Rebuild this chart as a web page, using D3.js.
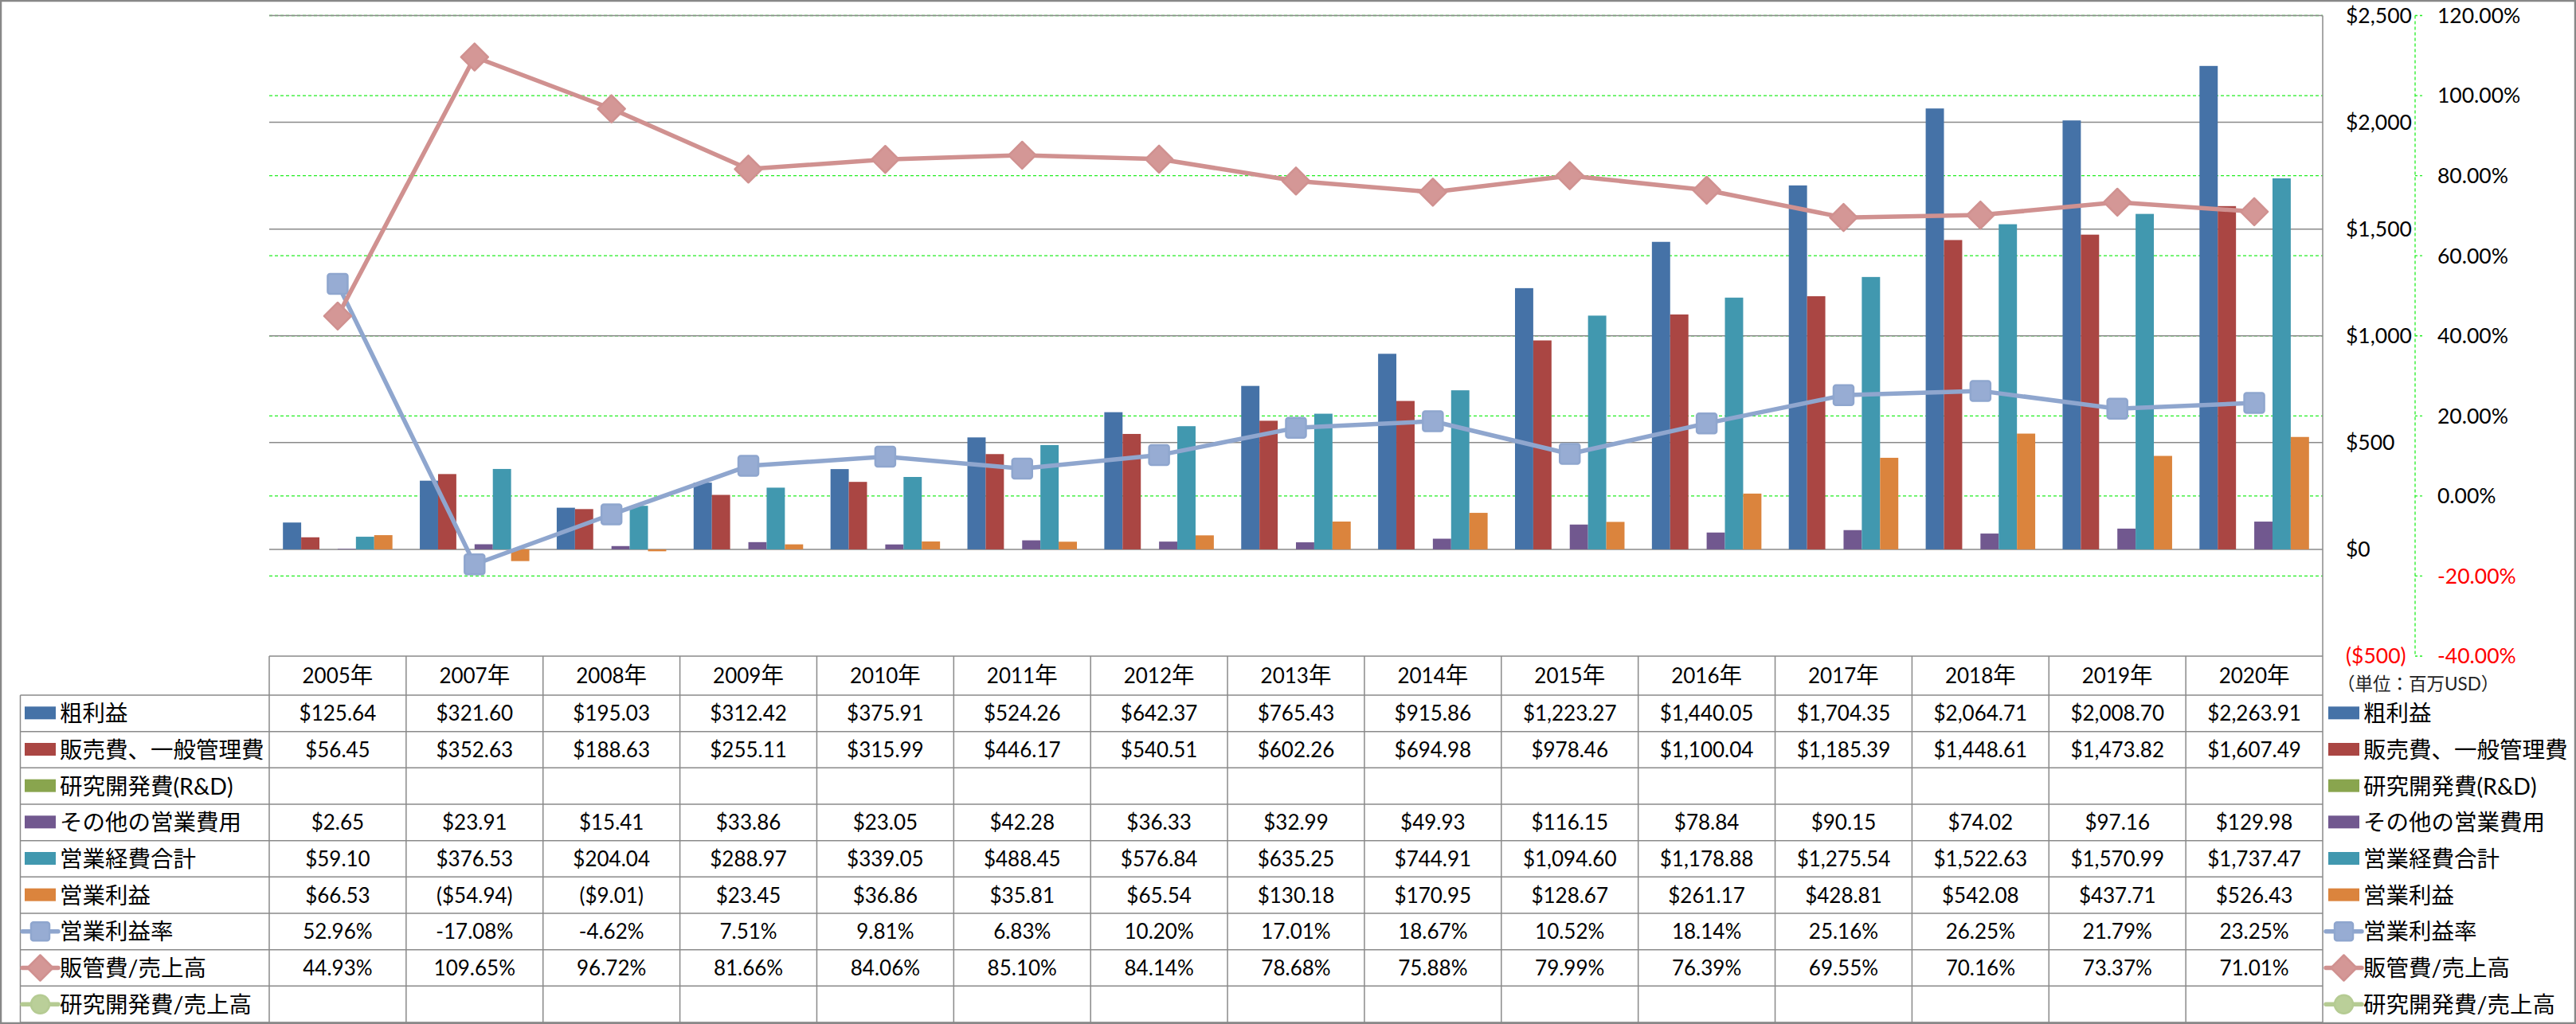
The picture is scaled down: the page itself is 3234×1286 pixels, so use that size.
<!DOCTYPE html>
<html><head><meta charset="utf-8">
<script src="https://cdn.jsdelivr.net/npm/d3@7"></script>
<style>
html,body{margin:0;padding:0;background:#fff;}
svg{display:block;}
text{font-family:Lato,'Noto Sans CJK JP',sans-serif;fill:#000;}
</style></head><body>
<svg id="chart" width="3234" height="1286"></svg>
<script>
// ---------- DATA ----------
const years = ["2005年","2007年","2008年","2009年","2010年","2011年","2012年","2013年","2014年","2015年","2016年","2017年","2018年","2019年","2020年"];
const grossProfit = [125.64,321.60,195.03,312.42,375.91,524.26,642.37,765.43,915.86,1223.27,1440.05,1704.35,2064.71,2008.70,2263.91];
const sga = [56.45,352.63,188.63,255.11,315.99,446.17,540.51,602.26,694.98,978.46,1100.04,1185.39,1448.61,1473.82,1607.49];
const rnd = [null,null,null,null,null,null,null,null,null,null,null,null,null,null,null];
const otherOpex = [2.65,23.91,15.41,33.86,23.05,42.28,36.33,32.99,49.93,116.15,78.84,90.15,74.02,97.16,129.98];
const totalOpex = [59.10,376.53,204.04,288.97,339.05,488.45,576.84,635.25,744.91,1094.60,1178.88,1275.54,1522.63,1570.99,1737.47];
const opIncome = [66.53,-54.94,-9.01,23.45,36.86,35.81,65.54,130.18,170.95,128.67,261.17,428.81,542.08,437.71,526.43];
const opMargin = [52.96,-17.08,-4.62,7.51,9.81,6.83,10.20,17.01,18.67,10.52,18.14,25.16,26.25,21.79,23.25];
const sgaRatio = [44.93,109.65,96.72,81.66,84.06,85.10,84.14,78.68,75.88,79.99,76.39,69.55,70.16,73.37,71.01];
const rndRatio = [null,null,null,null,null,null,null,null,null,null,null,null,null,null,null];
const barNames = ["粗利益","販売費、一般管理費","研究開発費(R&D)","その他の営業費用","営業経費合計","営業利益"];
const lineNames = ["営業利益率","販管費/売上高","研究開発費/売上高"];
const dollarTicks = [-500,0,500,1000,1500,2000,2500];
const pctTicks = [-40,-20,0,20,40,60,80,100,120];
const unitNote = "（単位：百万USD）";

// ---------- STYLE ----------
const barColors = ["#4572A7","#AA4643","#89A54E","#71588F","#4198AF","#DB843D"];
const lineColors = ["#8FA6CE","#D09190","#B5CB93"];
const markerFill = ["#97ACD3","#D49796","#BACF99"];
const markerKinds = ["square","diamond","circle"];
const gridGray = "#8A8A8A";
const green = "#22EE22";

const W = 3234, H = 1286;
const plotL = 338, plotR = 2916, plotT = 19.5, plotB = 824;
const headerB = 873, tableB = 1284, legL = 25.5;
const rowH = (tableB - headerB) / 9;

const svg = d3.select("#chart");

const x = d3.scaleBand().domain(years).range([plotL, plotR]).paddingInner(0).paddingOuter(0);
const bw = x.bandwidth();
const x1 = d3.scaleBand().domain(d3.range(6)).range([bw*0.1, bw*0.9]).paddingInner(0).paddingOuter(0);
const yL = d3.scaleLinear().domain([-500, 2500]).range([plotB, plotT]);
const yR = d3.scaleLinear().domain([-40, 120]).range([plotB, plotT]);

// green dashed gridlines (secondary axis)
svg.append("g").selectAll("line").data(pctTicks.filter(t => t > -40)).join("line")
  .attr("x1", plotL).attr("x2", plotR)
  .attr("y1", d => yR(d)).attr("y2", d => yR(d))
  .attr("stroke", green).attr("stroke-width", 1.3).attr("stroke-dasharray", "4,3");

// gray gridlines (primary axis)
svg.append("g").selectAll("line").data(dollarTicks.filter(t => t > -500)).join("line")
  .attr("x1", plotL).attr("x2", plotR)
  .attr("y1", d => yL(d)).attr("y2", d => yL(d))
  .attr("stroke", gridGray).attr("stroke-width", 1.5);

// bars
const barData = [grossProfit, sga, rnd, otherOpex, totalOpex, opIncome];
barData.forEach((vals, si) => {
  svg.append("g").selectAll("rect").data(vals.map((v, i) => ({v, i})).filter(d => d.v != null)).join("rect")
    .attr("x", d => x(years[d.i]) + x1(si))
    .attr("width", x1.bandwidth())
    .attr("y", d => Math.min(yL(0), yL(d.v)))
    .attr("height", d => Math.abs(yL(d.v) - yL(0)))
    .attr("fill", barColors[si]);
});

// marker helper
function drawMarker(g, kind, cx, cy, fill, stroke, size) {
  if (kind === "square") {
    g.append("rect").attr("x", cx - size/2).attr("y", cy - size/2).attr("width", size).attr("height", size)
      .attr("rx", 3).attr("fill", fill).attr("stroke", stroke).attr("stroke-width", 2.5);
  } else if (kind === "diamond") {
    const r = size/2;
    g.append("path").attr("d", `M${cx},${cy-r}L${cx+r},${cy}L${cx},${cy+r}L${cx-r},${cy}Z`)
      .attr("fill", fill).attr("stroke", stroke).attr("stroke-width", 2.5).attr("stroke-linejoin", "round");
  } else {
    g.append("circle").attr("cx", cx).attr("cy", cy).attr("r", size/2)
      .attr("fill", fill).attr("stroke", stroke).attr("stroke-width", 2.5);
  }
}
const markerSize = [25, 34, 25];

// lines
const lineData = [opMargin, sgaRatio, rndRatio];
lineData.forEach((vals, li) => {
  const pts = vals.map((v, i) => ({v, i}));
  const line = d3.line().defined(d => d.v != null)
    .x(d => x(years[d.i]) + bw/2).y(d => yR(d.v));
  const g = svg.append("g");
  g.append("path").datum(pts).attr("d", line).attr("fill", "none")
    .attr("stroke", lineColors[li]).attr("stroke-width", 5.5).attr("stroke-linejoin", "round");
  pts.filter(d => d.v != null).forEach(d => {
    drawMarker(g, markerKinds[li], x(years[d.i]) + bw/2, yR(d.v), markerFill[li], lineColors[li], markerSize[li]);
  });
});

// right plot border
svg.append("line").attr("x1", plotR).attr("x2", plotR).attr("y1", plotT).attr("y2", tableB)
  .attr("stroke", gridGray).attr("stroke-width", 1.5);

// secondary axis line (green dashed) + ticks
const axX = 3032;
svg.append("line").attr("x1", axX).attr("x2", axX).attr("y1", plotT).attr("y2", plotB)
  .attr("stroke", green).attr("stroke-width", 1.3).attr("stroke-dasharray", "4,3");
svg.append("g").selectAll("line").data(pctTicks).join("line")
  .attr("x1", axX).attr("x2", axX + 10).attr("y1", d => yR(d)).attr("y2", d => yR(d))
  .attr("stroke", green).attr("stroke-width", 1.3).attr("stroke-dasharray", "3,3");

// axis labels
const fmtDollarTick = v => v < 0 ? "($" + d3.format(",")(-v) + ")" : "$" + d3.format(",")(v);
svg.append("g").selectAll("text").data(dollarTicks).join("text")
  .attr("x", 2945).attr("y", d => yL(d) + 9.4)
  .attr("font-size", 26.5)
  .style("fill", d => d < 0 ? "#FF0000" : "#000")
  .text(fmtDollarTick);
const fmtPct = v => (v < 0 ? "-" : "") + Math.abs(v).toFixed(2) + "%";
svg.append("g").selectAll("text").data(pctTicks).join("text")
  .attr("x", 3060).attr("y", d => yR(d) + 9.4)
  .attr("font-size", 26.5)
  .style("fill", d => d < 0 ? "#FF0000" : "#000")
  .text(fmtPct);

// ---------- TABLE ----------
const tg = svg.append("g");
tg.append("line").attr("x1", plotL).attr("x2", plotR).attr("y1", plotB).attr("y2", plotB)
  .attr("stroke", gridGray).attr("stroke-width", 1.5);
d3.range(10).forEach(i => {
  const yy = headerB + i*rowH;
  tg.append("line").attr("x1", legL).attr("x2", plotR).attr("y1", yy).attr("y2", yy)
    .attr("stroke", gridGray).attr("stroke-width", 1.5);
});
tg.append("line").attr("x1", legL).attr("x2", legL).attr("y1", headerB).attr("y2", tableB)
  .attr("stroke", gridGray).attr("stroke-width", 1.5);
years.forEach(yr => {
  tg.append("line").attr("x1", x(yr)).attr("x2", x(yr)).attr("y1", plotB).attr("y2", tableB)
    .attr("stroke", gridGray).attr("stroke-width", 1.5);
});

// header
years.forEach(yr => {
  const t = tg.append("text").attr("x", x(yr) + bw/2).attr("y", (plotB + headerB)/2 + 9.4)
    .attr("text-anchor", "middle").attr("font-size", 26);
  t.append("tspan").text(yr.replace("年", ""));
  t.append("tspan").attr("font-size", 28.5).text("年");
});

const fmtMoney = v => v == null ? "" : (v < 0 ? "($" + d3.format(",.2f")(-v) + ")" : "$" + d3.format(",.2f")(v));
const fmtP = v => v == null ? "" : (v < 0 ? "-" : "") + Math.abs(v).toFixed(2) + "%";
const rows = [
  {vals: grossProfit, f: fmtMoney}, {vals: sga, f: fmtMoney}, {vals: rnd, f: fmtMoney},
  {vals: otherOpex, f: fmtMoney}, {vals: totalOpex, f: fmtMoney}, {vals: opIncome, f: fmtMoney},
  {vals: opMargin, f: fmtP}, {vals: sgaRatio, f: fmtP}, {vals: rndRatio, f: fmtP}
];
rows.forEach((r, ri) => {
  const cy = headerB + (ri + 0.5)*rowH;
  tg.append("g").selectAll("text").data(r.vals).join("text")
    .attr("x", (d, i) => x(years[i]) + bw/2).attr("y", cy + 9.4)
    .attr("text-anchor", "middle").attr("font-size", 26)
    .text(d => r.f(d));
});

// legend keys (left column and right side)
const allNames = barNames.concat(lineNames);
function legendEntry(g, idx, x0, cy) {
  if (idx < 6) {
    g.append("rect").attr("x", x0).attr("y", cy - 8.5).attr("width", 39).attr("height", 16)
      .attr("fill", barColors[idx]);
  } else {
    const li = idx - 6;
    g.append("line").attr("x1", x0 - 3).attr("x2", x0 + 42).attr("y1", cy).attr("y2", cy)
      .attr("stroke", lineColors[li]).attr("stroke-width", 5.5).attr("stroke-linecap", "round");
    drawMarker(g, markerKinds[li], x0 + 19.5, cy, markerFill[li], lineColors[li], li === 1 ? 32 : 23);
  }
  g.append("text").attr("x", x0 + 44).attr("y", cy + 10.5)
    .attr("font-family", "'Noto Sans CJK JP',sans-serif").attr("font-size", 28.5)
    .text(allNames[idx]);
}
allNames.forEach((n, i) => {
  const cy = headerB + (i + 0.5)*rowH;
  legendEntry(tg, i, 31, cy);
  legendEntry(svg, i, 2923, cy);
});

// unit note
svg.append("text").attr("x", 2934).attr("y", 866.5)
  .attr("font-family", "'Noto Sans CJK JP',sans-serif").attr("font-size", 22.5)
  .style("fill", "#222").text(unitNote);

// outer border
svg.append("rect").attr("x", 1).attr("y", 1).attr("width", W - 2).attr("height", H - 2)
  .attr("fill", "none").attr("stroke", "#888").attr("stroke-width", 2.5);
</script>
</body></html>
